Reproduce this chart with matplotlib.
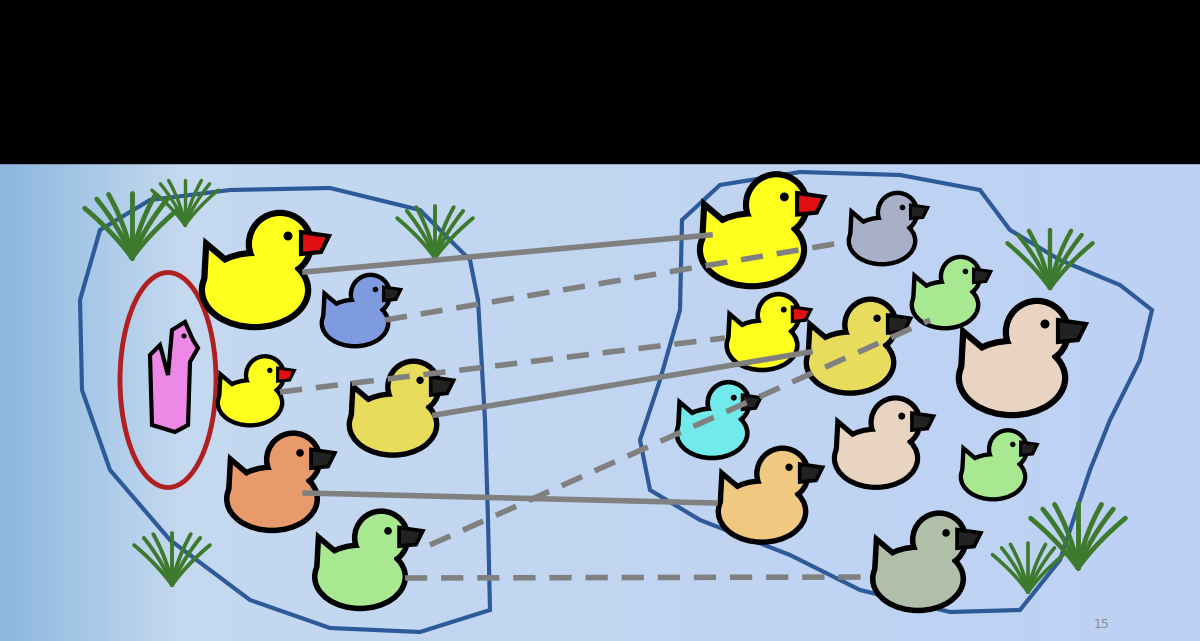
import numpy as np
import matplotlib.pyplot as plt
from matplotlib.patches import Ellipse, Circle, Polygon

# ducks: x, y (body centre, px), scale, colour
duck_x = [255, 355, 250, 393, 272, 360, 752, 882, 945, 762, 850, 1012, 712, 876, 993, 762, 918]
duck_y = [282, 318, 398, 418, 492, 570, 242, 236, 300, 340, 356, 370, 428, 452, 472, 505, 572]
duck_s = [1.0, 0.62, 0.6, 0.82, 0.85, 0.85, 0.98, 0.62, 0.62, 0.66, 0.82, 1.0, 0.66, 0.78, 0.6, 0.82, 0.85]
duck_c = ['#ffff1e', '#7f9be0', '#ffff1e', '#e8dc5c', '#e89a6a', '#a8e890',
          '#ffff1e', '#a8b0c8', '#a8e890', '#ffff1e', '#e8dc5c', '#e8d4c0',
          '#70eaea', '#e8d4c0', '#a8e890', '#f0c880', '#b0c0a8']
beak_c = ['#e01010', '#222222', '#e01010', '#222222', '#222222', '#222222',
          '#e01010', '#222222', '#222222', '#e01010', '#222222', '#222222',
          '#222222', '#222222', '#222222', '#222222', '#222222']

solid_links = [((305, 272), (710, 235)), ((435, 415), (810, 352)), ((305, 493), (715, 503))]
dashed_links = [((385, 320), (840, 243)), ((280, 392), (725, 338)),
                ((430, 545), (930, 320)), ((405, 578), (865, 577))]

left_pond = [(80, 300), (100, 230), (150, 200), (230, 190), (330, 188), (420, 210), (470, 260),
             (478, 300), (485, 420), (488, 520), (490, 610), (420, 632), (330, 628), (250, 600),
             (170, 540), (110, 470), (82, 390)]
right_pond = [(640, 440), (660, 380), (680, 310), (682, 220), (720, 185), (800, 172), (900, 175),
              (980, 190), (1010, 230), (1060, 260), (1120, 285), (1152, 310), (1140, 360),
              (1110, 420), (1090, 470), (1060, 560), (1020, 610), (950, 612), (860, 590),
              (790, 555), (700, 520), (650, 490)]

grass = [(132, 258, 1.0), (185, 225, 0.7), (435, 258, 0.8), (172, 585, 0.8),
         (1050, 288, 0.9), (1078, 568, 1.0), (1028, 592, 0.75)]


def duck_parts(x, y, s):
    return [
        Ellipse((x, y + 8 * s), 100 * s, 68 * s),
        Polygon([(x - 48 * s, y + 5 * s), (x - 46 * s, y - 32 * s), (x - 20 * s, y - 10 * s)]),
        Circle((x + 25 * s, y - 38 * s), 28 * s),
        Ellipse((x + 20 * s, y - 12 * s), 40 * s, 40 * s),
    ]


def draw_duck(ax, x, y, s, col, bcol):
    beak = Polygon([(x + 46 * s, y - 50 * s), (x + 74 * s, y - 46 * s), (x + 66 * s, y - 30 * s),
                    (x + 46 * s, y - 28 * s)], fc=bcol, ec='black', lw=2 * s + 1, zorder=6.5)
    for p in duck_parts(x, y, s):
        p.set(fc='black', ec='black', lw=7 * s + 2, zorder=5)
        ax.add_patch(p)
    ax.add_patch(beak)
    for p in duck_parts(x, y, s):
        p.set(fc=col, ec='none', zorder=6)
        ax.add_patch(p)
    ax.add_patch(Circle((x + 33 * s, y - 46 * s), 4.5 * s, fc='black', zorder=7))


def draw_grass(ax, x, y, s):
    for ang in [-40, -25, -12, 0, 12, 25, 40]:
        a = np.radians(ang)
        t = np.linspace(0, 1, 20)
        xs = x + np.sin(a) * 55 * s * t + 12 * s * t ** 2 * np.sign(ang)
        ys = y - np.cos(a) * 65 * s * t
        ax.plot(xs, ys, color='#3e7a2e', lw=3.5 * s, solid_capstyle='round', zorder=3)


fig = plt.figure(figsize=(12, 6.41), dpi=100)
ax = fig.add_axes([0, 0, 1, 1])
ax.set_xlim(0, 1200)
ax.set_ylim(641, 0)
ax.axis('off')

# background gradient
grad = np.linspace(0, 1, 300)
c0 = np.array([0.55, 0.72, 0.87])
c1 = np.array([0.77, 0.85, 0.94])
c2 = np.array([0.74, 0.82, 0.96])
row = np.where(grad[:, None] < 0.15, c0 + (c1 - c0) * (grad[:, None] / 0.15),
               c1 + (c2 - c1) * ((grad[:, None] - 0.15) / 0.85))
ax.imshow(row[None, :, :], extent=[0, 1200, 641, 163], aspect='auto', zorder=0)
ax.fill_between([0, 1200], 0, 163, color='black', zorder=1)

ax.add_patch(Polygon(left_pond, closed=True, fc='none', ec='#2e5a9a', lw=3, zorder=2))
ax.add_patch(Polygon(right_pond, closed=True, fc='none', ec='#2e5a9a', lw=3, zorder=2))

for gx, gy, gs in grass:
    draw_grass(ax, gx, gy, gs)

for (a, b) in solid_links:
    ax.plot([a[0], b[0]], [a[1], b[1]], color='#808080', lw=4, zorder=8)
for (a, b) in dashed_links:
    ax.plot([a[0], b[0]], [a[1], b[1]], color='#808080', lw=4, ls=(0, (4, 2.5)), zorder=8)

for x, y, s, c, b in zip(duck_x, duck_y, duck_s, duck_c, beak_c):
    draw_duck(ax, x, y, s, c, b)

# pink duck in red ring
ax.add_patch(Ellipse((168, 380), 96, 215, fc='none', ec='#b02020', lw=3.5, zorder=4))
pink = Polygon([(152, 425), (150, 355), (160, 345), (168, 375), (172, 330), (185, 322),
                (193, 340), (198, 348), (190, 362), (188, 425), (175, 432)], closed=True,
               fc='#ee88e6', ec='black', lw=3, zorder=6)
ax.add_patch(pink)
ax.add_patch(Circle((184, 336), 2.5, fc='black', zorder=7))

ax.text(1102, 624, '15', fontsize=9, color='#8a8a8a', ha='center', va='center', zorder=9)

fig.savefig('out.png', dpi=100)
